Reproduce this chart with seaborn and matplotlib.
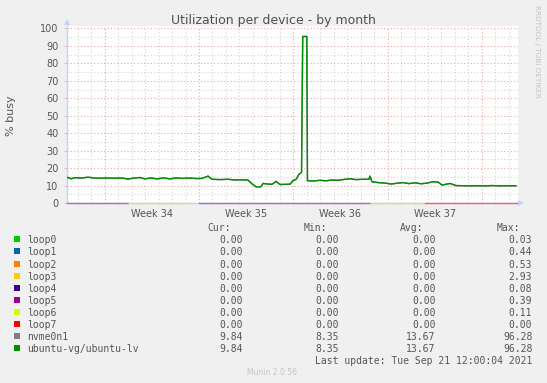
import matplotlib
matplotlib.use("Agg")
import matplotlib.pyplot as plt
import seaborn as sns
import pandas as pd
from matplotlib.patches import Rectangle

# ---------------- data ----------------
# time axis in days from the left edge of the graph
days = [0.00, 0.30, 0.59, 1.11, 1.56, 2.08, 2.82, 3.56, 4.08, 4.53, 4.97, 5.42,
        5.79, 6.24, 6.68, 7.13, 7.65, 8.09, 8.54, 9.13, 9.58, 10.02, 10.47, 10.76,
        11.36, 11.95, 12.47, 12.99, 13.44, 13.73, 14.03, 14.40, 14.55, 14.85, 15.22,
        15.52, 15.81, 16.26, 16.56, 16.78, 17.00, 17.22, 17.41, 17.50, 17.80, 17.85,
        18.26, 18.78, 19.23, 19.67, 20.12, 20.56, 21.01, 21.45, 21.97, 22.42, 22.49,
        22.64, 23.09, 23.61, 24.05, 24.50, 24.94, 25.39, 25.84, 26.28, 26.73, 27.17,
        27.54, 27.84, 28.43, 28.88, 29.40, 29.92, 30.51, 31.03, 31.55, 32.15, 32.74,
        33.33]
busy = [14.7, 13.9, 14.5, 14.3, 14.8, 14.2, 14.3, 14.2, 14.3, 13.7, 14.3, 14.6,
        13.8, 14.4, 13.8, 14.4, 13.8, 14.4, 14.1, 14.3, 14.0, 14.1, 15.4, 13.6,
        13.4, 13.6, 13.2, 13.3, 13.1, 11.0, 9.3, 9.3, 11.2, 10.9, 10.7,
        12.4, 10.6, 10.7, 10.8, 12.8, 13.5, 16.4, 17.5, 95.4, 95.4, 12.8,
        12.6, 13.0, 12.7, 13.2, 13.0, 13.5, 13.9, 13.4, 13.6, 13.6, 15.4,
        12.2, 11.7, 11.4, 10.9, 11.3, 11.7, 11.1, 11.6, 11.0, 11.4, 12.2,
        12.0, 10.3, 11.2, 10.0, 9.9, 9.8, 9.9, 9.8, 10.0, 9.8, 9.9,
        9.84]

devices = ["loop0", "loop1", "loop2", "loop3", "loop4", "loop5", "loop6", "loop7",
           "nvme0n1", "ubuntu-vg/ubuntu-lv"]
colors = ["#00CC00", "#0066B3", "#FF8000", "#FFCC00", "#330099", "#990099",
          "#CCFF00", "#FF0000", "#808080", "#008F00"]
cur_vals = [0.00, 0.00, 0.00, 0.00, 0.00, 0.00, 0.00, 0.00, 9.84, 9.84]
min_vals = [0.00, 0.00, 0.00, 0.00, 0.00, 0.00, 0.00, 0.00, 8.35, 8.35]
avg_vals = [0.00, 0.00, 0.00, 0.00, 0.00, 0.00, 0.00, 0.00, 13.67, 13.67]
max_vals = [0.03, 0.44, 0.53, 2.93, 0.08, 0.39, 0.11, 0.00, 96.28, 96.28]

# visible (top-most) loop lines along zero
loop_seg_device = ["loop5", "loop6", "loop5", "loop6", "loop7"]
loop_seg_start = [0.00, 4.53, 9.80, 22.49, 26.58]
loop_seg_end = [4.53, 9.35, 22.49, 26.58, 33.40]
loop_seg_value = [0.0, 0.0, 0.0, 0.0, 0.0]

week_starts = [2.8, 9.8, 16.8, 23.8, 30.8]
week_labels = ["Week 34", "Week 35", "Week 36", "Week 37"]
first_day_line = 0.8
x_span = 33.48
y_ticks = list(range(0, 101, 10))

title = "Utilization per device - by month"
ylabel = "% busy"
last_update = "Last update: Tue Sep 21 12:00:04 2021"
footer = "Munin 2.0.56"
side_text = "RRDTOOL / TOBI OETIKER"

# ---------------- figure ----------------
W, H = 547, 383
fig = plt.figure(figsize=(W / 100, H / 100), dpi=100, facecolor="#F0F0F0")
ax = fig.add_axes([67 / W, (H - 203) / H, (518 - 67) / W, (203 - 26) / H])
ax.set_facecolor("white")

palette = dict(zip(devices, colors))

loop_rows = []
for i, (dev, s, e, v) in enumerate(zip(loop_seg_device, loop_seg_start, loop_seg_end, loop_seg_value)):
    loop_rows.append({"day": s, "busy": v, "device": dev, "seg": i})
    loop_rows.append({"day": e, "busy": v, "device": dev, "seg": i})
df_loops = pd.DataFrame(loop_rows)

df_main = pd.DataFrame({"day": days, "busy": busy})

sns.lineplot(data=df_main, x="day", y="busy", color=palette["nvme0n1"], linewidth=1.0,
             estimator=None, ax=ax, zorder=3)
sns.lineplot(data=df_main, x="day", y="busy", color=palette["ubuntu-vg/ubuntu-lv"],
             linewidth=1.0, estimator=None, ax=ax, zorder=4)
sns.lineplot(data=df_loops, x="day", y="busy", hue="device", units="seg", estimator=None,
             palette=palette, linewidth=1.0, alpha=0.5, legend=False, ax=ax, zorder=5,
             clip_on=False)

ax.set_xlim(0, x_span)
ax.set_ylim(0, 101.4)

# grid
ax.set_axisbelow(True)
ax.set_yticks(y_ticks)
ax.set_yticks(list(range(0, 101, 5)), minor=True)
ax.yaxis.grid(True, which="major", color="#EBA8A8", linestyle=(0, (1, 2)), linewidth=0.8)
ax.yaxis.grid(True, which="minor", color="#D4D4D4", linestyle=(0, (1, 2)), linewidth=0.8)

n_days = int(x_span - first_day_line) + 1
day_lines = [first_day_line + k for k in range(n_days)]
day_lines = [d for d in day_lines if all(abs(d - w) > 0.05 for w in week_starts)]
ax.set_xticks(day_lines, minor=True)
ax.xaxis.grid(True, which="minor", color="#D4D4D4", linestyle=(0, (1, 2)), linewidth=0.8)
for w in week_starts:
    ax.axvline(w, color="#EBA8A8", linestyle=(0, (1, 2)), linewidth=0.8, zorder=1)

mids = [(a + b) / 2 for a, b in zip(week_starts[:-1], week_starts[1:])]
ax.set_xticks(mids)
ax.set_xticklabels(week_labels)
ax.xaxis.grid(False, which="major")

ax.tick_params(axis="x", which="major", length=0, pad=4, labelsize=7, labelcolor="#555555")
ax.tick_params(axis="x", which="minor", length=0)
ax.tick_params(axis="y", which="major", length=2, color="#C8C8C8", pad=4, labelsize=7,
               labelcolor="#555555")
ax.tick_params(axis="y", which="minor", length=0)
ax.set_xlabel("")
ax.set_ylabel("")

for side in ["top", "right"]:
    ax.spines[side].set_visible(False)
for side in ["left", "bottom"]:
    ax.spines[side].set_color("#C8D0F4")
    ax.spines[side].set_linewidth(1.0)

# axis arrows
ax.plot([0], [1.025], marker="^", markersize=5, color="#C8D0F4", transform=ax.transAxes,
        clip_on=False, markeredgewidth=0)
ax.plot([1.007], [0], marker=">", markersize=5, color="#C8D0F4", transform=ax.transAxes,
        clip_on=False, markeredgewidth=0)

# texts
fig.text(0.5, 1 - 24 / H, title, ha="center", va="baseline", fontsize=9, color="#505050")
fig.text(11 / W, 1 - 116 / H, ylabel, ha="center", va="center", rotation=90, fontsize=8,
         color="#555555")
fig.text(537 / W, 1 - 5 / H, side_text, ha="center", va="top", rotation=270, fontsize=5.2,
         color="#C4C4C4")
fig.text(272 / W, 1 - 375 / H, footer, ha="center", va="baseline", fontsize=5.5,
         color="#C4C4C4")

mono = "DejaVu Sans Mono"
tc = "#555555"
fs = 7
base0 = 243.3
step = 12.1
col_right = [243, 339.3, 435.7, 532.3]
headers = ["Cur:", "Min:", "Avg:", "Max:"]
for xr, hd in zip(col_right, headers):
    fig.text((xr - 36) / W, 1 - (base0 - step) / H, hd, ha="left", va="baseline",
             family=mono, fontsize=fs, color=tc)
for i, (dev, col) in enumerate(zip(devices, colors)):
    yb = base0 + i * step
    fig.patches.append(Rectangle((14 / W, 1 - (yb - 1) / H), 6 / W, 6 / H,
                                 transform=fig.transFigure, facecolor=col, edgecolor="none"))
    fig.text(27 / W, 1 - yb / H, dev, ha="left", va="baseline", family=mono, fontsize=fs, color=tc)
    for xr, vals in zip(col_right, [cur_vals, min_vals, avg_vals, max_vals]):
        fig.text(xr / W, 1 - yb / H, f"{vals[i]:.2f}", ha="right", va="baseline",
                 family=mono, fontsize=fs, color=tc)
fig.text(532.3 / W, 1 - (base0 + 10 * step) / H, last_update, ha="right", va="baseline",
         family=mono, fontsize=fs, color=tc)

fig.savefig("out.png", dpi=100, facecolor=fig.get_facecolor())
